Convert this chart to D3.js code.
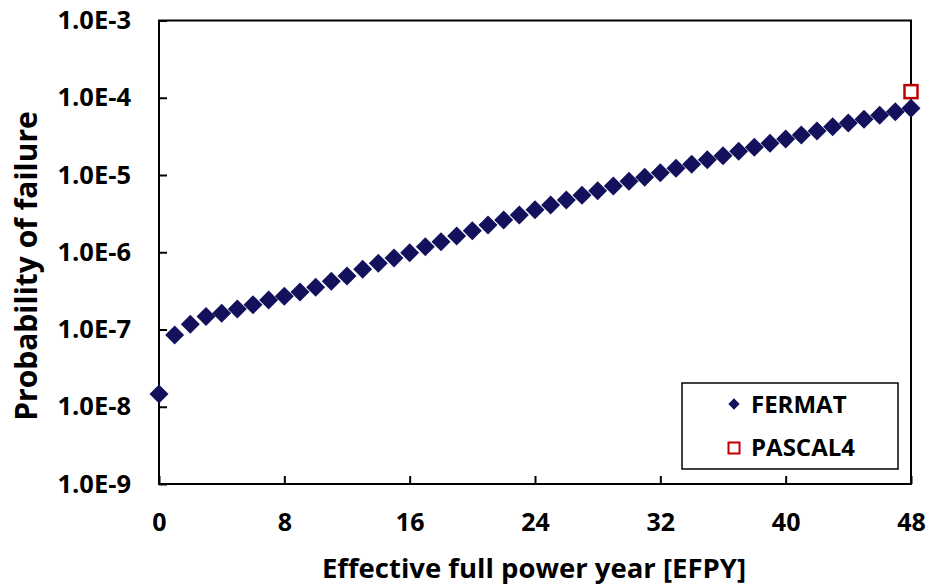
<!DOCTYPE html>
<html>
<head>
<meta charset="utf-8">
<script src="https://cdn.jsdelivr.net/npm/d3@7"></script>
<style>
  body { margin: 0; background: #fff; }
  text { font-family: "Open Sans", sans-serif; font-weight: bold; fill: #000; }
</style>
</head>
<body>
<div id="chart"></div>
<script>
// EFPY years 0..48
const years = [0,1,2,3,4,5,6,7,8,9,10,11,12,13,14,15,16,17,18,19,20,21,22,23,24,
  25,26,27,28,29,30,31,32,33,34,35,36,37,38,39,40,41,42,43,44,45,46,47,48];
const fermat = [1.46e-8, 8.5e-8, 1.17e-7, 1.47e-7, 1.62e-7, 1.84e-7, 2.09e-7, 2.41e-7, 2.69e-7,
  3.06e-7, 3.52e-7, 4.21e-7, 4.93e-7, 6.01e-7, 7.19e-7, 8.43e-7, 9.87e-7, 1.18e-6, 1.37e-6,
  1.62e-6, 1.90e-6, 2.25e-6, 2.62e-6, 3.03e-6, 3.56e-6, 4.09e-6, 4.75e-6, 5.46e-6, 6.27e-6,
  7.21e-6, 8.28e-6, 9.33e-6, 1.07e-5, 1.22e-5, 1.38e-5, 1.58e-5, 1.78e-5, 2.03e-5, 2.28e-5,
  2.57e-5, 2.92e-5, 3.30e-5, 3.71e-5, 4.22e-5, 4.71e-5, 5.26e-5, 5.93e-5, 6.59e-5, 7.30e-5];
const pascalYears = [48];
const pascal4 = [1.20e-4];
const xTicks = [0, 8, 16, 24, 32, 40, 48];
const yTicks = [1e-9, 1e-8, 1e-7, 1e-6, 1e-5, 1e-4, 1e-3];

const width = 929, height = 585;
const margin = { top: 20.5, right: 18, bottom: 101, left: 159 };

const svg = d3.select("#chart").append("svg")
  .attr("width", width)
  .attr("height", height);

const x = d3.scaleLinear()
  .domain([0, 48])
  .range([margin.left, width - margin.right]);

const y = d3.scaleLog()
  .domain([1e-9, 1e-3])
  .range([height - margin.bottom, margin.top]);

// x axis (ticks inside)
const xAxis = svg.append("g")
  .attr("transform", "translate(0," + y(1e-9) + ")")
  .call(d3.axisBottom(x).tickValues(xTicks).tickSize(-8).tickPadding(29).tickFormat(d3.format("d")));
xAxis.selectAll("text").style("font-size", "25px");

const yAxis = svg.append("g")
  .attr("transform", "translate(" + x(0) + ",0)")
  .call(d3.axisLeft(y).tickValues(yTicks).tickSize(-8).tickPadding(28)
    .tickFormat(d => d.toExponential(1).replace("e", "E").toUpperCase()));
yAxis.selectAll("text").style("font-size", "25.5px");

svg.selectAll(".tick line").attr("stroke", "#000").attr("stroke-width", 2);
svg.selectAll(".domain").remove();

// frame
svg.append("rect")
  .attr("x", x(0)).attr("y", y(1e-3))
  .attr("width", x(48) - x(0)).attr("height", y(1e-9) - y(1e-3))
  .attr("fill", "none").attr("stroke", "#000").attr("stroke-width", 2);

// FERMAT diamonds
const diamond = d3.symbol().type(d3.symbolSquare).size(180);
svg.append("g").selectAll("path")
  .data(years)
  .enter()
  .append("path")
  .attr("d", diamond)
  .attr("transform", (d, i) => "translate(" + x(d) + "," + y(fermat[i]) + ") rotate(45)")
  .attr("fill", "#13105c");

// PASCAL4 squares
svg.append("g").selectAll("rect")
  .data(pascalYears)
  .enter()
  .append("rect")
  .attr("x", d => x(d) - 6.5)
  .attr("y", (d, i) => y(pascal4[i]) - 6.5)
  .attr("width", 13).attr("height", 13)
  .attr("fill", "#fff")
  .attr("stroke", "#c00000")
  .attr("stroke-width", 2.5);

// axis titles
svg.append("text")
  .attr("x", 534)
  .attr("y", 578)
  .attr("text-anchor", "middle")
  .style("font-size", "27.5px")
  .text("Effective full power year [EFPY]");

svg.append("text")
  .attr("transform", "translate(37," + 266 + ") rotate(-90)")
  .attr("text-anchor", "middle")
  .style("font-size", "30px")
  .text("Probability of failure");

// legend
const legend = svg.append("g");
legend.append("rect")
  .attr("x", 682).attr("y", 383)
  .attr("width", 216).attr("height", 86)
  .attr("fill", "#fff").attr("stroke", "#000").attr("stroke-width", 1.5);
legend.append("path")
  .attr("d", d3.symbol().type(d3.symbolSquare).size(64))
  .attr("transform", "translate(734,404) rotate(45)")
  .attr("fill", "#13105c");
legend.append("text")
  .attr("x", 751).attr("y", 413)
  .style("font-size", "24px")
  .text("FERMAT");
legend.append("rect")
  .attr("x", 728.5).attr("y", 442.5)
  .attr("width", 11).attr("height", 11)
  .attr("fill", "#fff").attr("stroke", "#c00000").attr("stroke-width", 2);
legend.append("text")
  .attr("x", 751).attr("y", 456)
  .style("font-size", "24px")
  .text("PASCAL4");
</script>
</body>
</html>
